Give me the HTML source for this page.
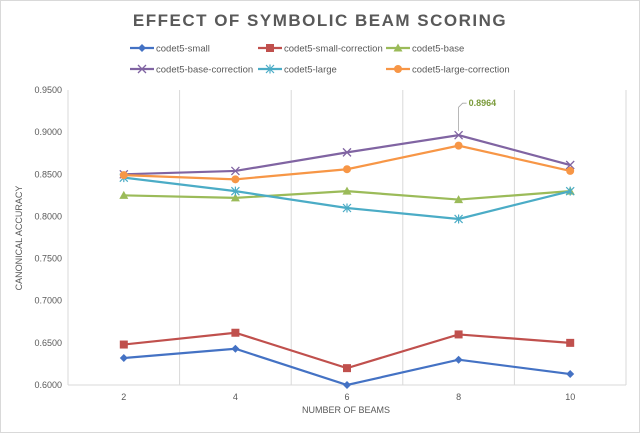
<!DOCTYPE html>
<html><head><meta charset="utf-8"><style>
body{margin:0;background:#fff}
svg{display:block;font-family:"Liberation Sans",sans-serif}
</style></head><body>
<svg id="c" width="640" height="433" viewBox="0 0 640 433">
<rect x="0.5" y="0.5" width="639" height="432" fill="#fff" stroke="#d9d9d9"/>
<text x="320" y="26" text-anchor="middle" font-size="17" font-weight="bold" fill="#595959" letter-spacing="1.5">EFFECT OF SYMBOLIC BEAM SCORING</text>
<text x="22" y="238" transform="rotate(-90 22 238)" text-anchor="middle" font-size="9" fill="#595959">CANONICAL ACCURACY</text>
<text x="346" y="413" text-anchor="middle" font-size="9" fill="#595959">NUMBER OF BEAMS</text>
<g id="grid"></g><g id="axes"></g><g id="series"></g><g id="legend"></g>
</svg>
<script>
const categories=["2","4","6","8","10"];
const yTicks=[0.60,0.65,0.70,0.75,0.80,0.85,0.90,0.95];
const names=["codet5-small","codet5-small-correction","codet5-base","codet5-base-correction","codet5-large","codet5-large-correction"];
const small=[0.632,0.643,0.600,0.630,0.613];
const smallCorr=[0.648,0.662,0.620,0.660,0.650];
const base=[0.825,0.822,0.830,0.820,0.830];
const baseCorr=[0.850,0.854,0.876,0.8964,0.861];
const large=[0.846,0.830,0.810,0.797,0.830];
const largeCorr=[0.849,0.844,0.856,0.884,0.854];
const colors=["#4472c4","#c0504d","#9bbb59","#8064a2","#4bacc6","#f79646"];
const markers=["diamond","square","triangle","x","star","circle"];
const NS="http://www.w3.org/2000/svg";
const L=68,R=626,T=90,B=385;
const bw=(R-L)/categories.length;
const xs=i=>L+bw*(i+0.5);
const ys=v=>B-(v-0.60)/(0.35)*(B-T);
function mk(t,a,p){const e=document.createElementNS(NS,t);for(const k in a)e.setAttribute(k,a[k]);p.appendChild(e);return e;}
const grid=document.getElementById('grid'),axes=document.getElementById('axes'),ser=document.getElementById('series'),leg=document.getElementById('legend');
for(let i=0;i<=categories.length;i++){const g=mk('line',{x1:L+bw*i,x2:L+bw*i,y1:T,y2:B,stroke:'#d9d9d9'},grid);

}
const ax=mk('line',{x1:L,x2:R,y1:B,y2:B,stroke:'#d9d9d9'},axes);


yTicks.forEach(v=>{const t=mk('text',{x:L-6,y:ys(v)+3,'text-anchor':'end','font-size':'9',fill:'#595959'},axes);t.textContent=v.toFixed(4);

});
categories.forEach((c,i)=>{const t=mk('text',{x:xs(i),y:B+15,'text-anchor':'middle','font-size':'9',fill:'#595959'},axes);t.textContent=c;

});
function marker(type,x,y,col,p){
 if(type==='diamond')return mk('path',{d:`M${x} ${y-4}L${x+4} ${y}L${x} ${y+4}L${x-4} ${y}Z`,fill:col},p);
 if(type==='square')return mk('rect',{x:x-4,y:y-4,width:8,height:8,fill:col},p);
 if(type==='triangle')return mk('path',{d:`M${x} ${y-4.5}L${x+4.5} ${y+3.5}L${x-4.5} ${y+3.5}Z`,fill:col},p);
 if(type==='circle')return mk('circle',{cx:x,cy:y,r:4,fill:col},p);
 if(type==='x')return mk('path',{d:`M${x-4} ${y-4}L${x+4} ${y+4}M${x-4} ${y+4}L${x+4} ${y-4}`,stroke:col,'stroke-width':1.3},p);
 return mk('path',{d:`M${x-4} ${y-4}L${x+4} ${y+4}M${x-4} ${y+4}L${x+4} ${y-4}M${x} ${y-4.5}L${x} ${y+4.5}`,stroke:col,'stroke-width':1.2},p);
}
const all=[small,smallCorr,base,baseCorr,large,largeCorr];
all.forEach((d,s)=>{
 const g=mk('g',{},ser);
 
 
 const pl=mk('polyline',{points:d.map((v,i)=>xs(i)+','+ys(v)).join(' '),fill:'none',stroke:colors[s],'stroke-width':2.2},g);
 
 
 d.forEach((v,i)=>{const m=marker(markers[s],xs(i),ys(v),colors[s],g);
 
 });
});
// data label for max of base-correction
const mi=3,mx=xs(mi),my=ys(baseCorr[mi]);
const ll=mk('path',{d:`M${mx} ${my-4}L${mx} ${my-28}L${mx+4} ${my-32}L${mx+8} ${my-32}`,fill:'none',stroke:'#a6a6a6','stroke-width':0.8},ser);


const dl=mk('text',{x:mx+10,y:my-29,'font-size':'9','font-weight':'bold',fill:'#7a9a3a'},ser);dl.textContent=baseCorr[mi].toFixed(4);


const lpos=[[130,48],[258,48],[386,48],[130,69],[258,69],[386,69]];
names.forEach((n,s)=>{
 const [x,y]=lpos[s];
 const g=mk('g',{},leg);
 
 
 mk('line',{x1:x,x2:x+24,y1:y,y2:y,stroke:colors[s],'stroke-width':2.2},g);
 marker(markers[s],x+12,y,colors[s],g);
 const t=mk('text',{x:x+26,y:y+3.5,'font-size':'9.5',fill:'#595959'},g);t.textContent=n;
});
</script>
</body></html>
